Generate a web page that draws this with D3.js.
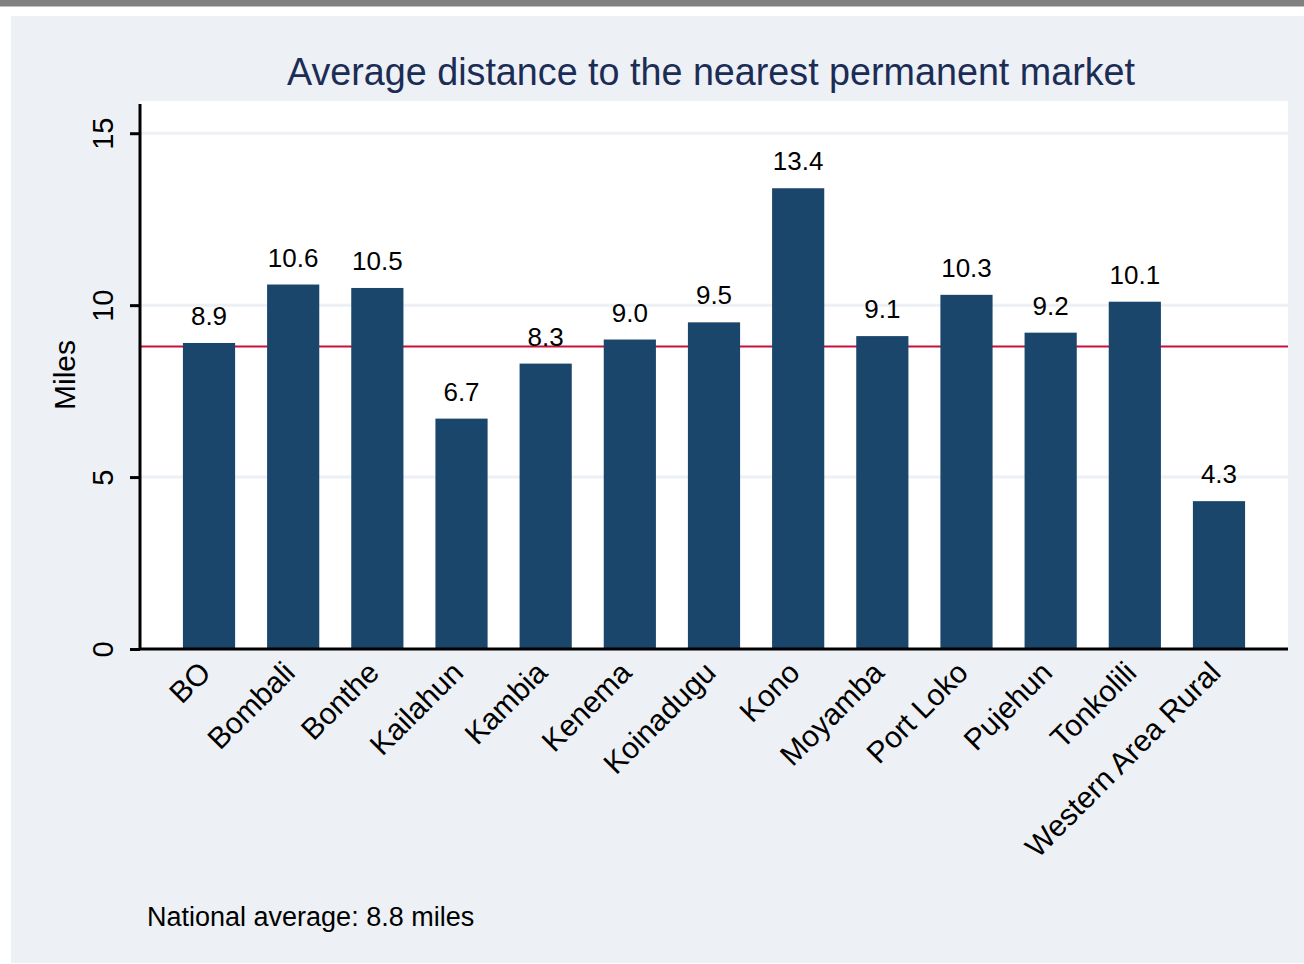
<!DOCTYPE html>
<html lang="en">
<head>
    <meta charset="UTF-8">
    <title>Average distance to the nearest permanent market</title>
    <script src="https://d3js.org/d3.v7.min.js"></script>
    <style>
        body { margin: 0; background: #ffffff; }
        svg { display: block; }
        text { font-family: "Liberation Sans", Arial, sans-serif; }
    </style>
</head>
<body>
<div id="chart"></div>
<script>
    // data
    const districts = ["BO", "Bombali", "Bonthe", "Kailahun", "Kambia", "Kenema", "Koinadugu",
        "Kono", "Moyamba", "Port Loko", "Pujehun", "Tonkolili", "Western Area Rural"];
    const distances = [8.9, 10.6, 10.5, 6.7, 8.3, 9.0, 9.5, 13.4, 9.1, 10.3, 9.2, 10.1, 4.3];
    const yTicks = [0, 5, 10, 15];
    const nationalAverage = 8.8;

    const width = 1304, height = 964;
    const plot = { left: 140, right: 1288, top: 101, bottom: 649 };

    const svg = d3.select("#chart").append("svg")
        .attr("width", width)
        .attr("height", height);

    // frame: grey strip on top, light bluish graph region
    svg.append("rect").attr("x", 0).attr("y", 0).attr("width", width).attr("height", 6.5).attr("fill", "#808080");
    svg.append("rect").attr("x", 11).attr("y", 16).attr("width", width - 11).attr("height", height - 17).attr("fill", "#edf0f5");
    svg.append("rect").attr("x", plot.left).attr("y", plot.top)
        .attr("width", plot.right - plot.left).attr("height", plot.bottom - plot.top)
        .attr("fill", "#ffffff");

    const x = d3.scaleBand()
        .domain(districts)
        .range([plot.left, plot.right])
        .paddingInner(0.38)
        .paddingOuter(0.51);

    const y = d3.scaleLinear()
        .domain([0, 15.85])
        .range([plot.bottom, 104]);

    // gridlines
    svg.append("g")
        .selectAll("line")
        .data(yTicks.filter(d => d > 0))
        .enter().append("line")
        .attr("x1", plot.left).attr("x2", plot.right)
        .attr("y1", d => y(d)).attr("y2", d => y(d))
        .attr("stroke", "#edf0f5")
        .attr("stroke-width", 3);

    // national average line (behind bars)
    svg.append("line")
        .attr("x1", plot.left).attr("x2", plot.right)
        .attr("y1", y(nationalAverage)).attr("y2", y(nationalAverage))
        .attr("stroke", "#c8103a")
        .attr("stroke-width", 2);

    // bars
    svg.append("g")
        .selectAll("rect")
        .data(distances)
        .enter().append("rect")
        .attr("x", (d, i) => x(districts[i]))
        .attr("y", d => y(d))
        .attr("width", x.bandwidth())
        .attr("height", d => y(0) - y(d))
        .attr("fill", "#1a466b");

    // value labels
    svg.append("g")
        .selectAll("text")
        .data(distances)
        .enter().append("text")
        .attr("x", (d, i) => x(districts[i]) + x.bandwidth() / 2)
        .attr("y", d => y(d) - 18)
        .attr("text-anchor", "middle")
        .attr("font-size", 26)
        .attr("fill", "#000")
        .text(d => d.toFixed(1));

    // y axis
    const yAxis = svg.append("g")
        .attr("transform", `translate(${plot.left},0)`)
        .call(d3.axisLeft(y).tickValues(yTicks).tickSize(10).tickFormat(d3.format("d")));
    yAxis.select(".domain").attr("stroke", "#000").attr("stroke-width", 3).attr("d", `M0,104V${plot.bottom}`);
    yAxis.selectAll(".tick line").attr("stroke", "#000").attr("stroke-width", 3);
    yAxis.selectAll(".tick text")
        .attr("font-size", 29)
        .attr("font-family", "Liberation Sans, Arial, sans-serif")
        .attr("fill", "#000")
        .attr("x", 0).attr("dy", 0)
        .attr("text-anchor", "middle")
        .attr("transform", "translate(-27,0) rotate(-90)");

    // x axis
    const xAxis = svg.append("g")
        .attr("transform", `translate(0,${plot.bottom})`)
        .call(d3.axisBottom(x).tickSize(0).tickPadding(0));
    xAxis.select(".domain").attr("stroke", "#000").attr("stroke-width", 3)
        .attr("d", `M${plot.left},0H${plot.right}`);
    xAxis.selectAll(".tick text")
        .attr("font-size", 30)
        .attr("font-family", "Liberation Sans, Arial, sans-serif")
        .attr("fill", "#000")
        .attr("text-anchor", "end")
        .attr("y", 0).attr("dy", "0.35em")
        .attr("transform", "translate(-4,18) rotate(-45)");

    // axis title
    svg.append("text")
        .attr("transform", "translate(75,375) rotate(-90)")
        .attr("text-anchor", "middle")
        .attr("font-size", 30)
        .attr("fill", "#000")
        .text("Miles");

    // chart title
    svg.append("text")
        .attr("x", 711).attr("y", 85)
        .attr("text-anchor", "middle")
        .attr("font-size", 38)
        .attr("fill", "#1c2d55")
        .attr("textLength", 848)
        .attr("lengthAdjust", "spacingAndGlyphs")
        .text("Average distance to the nearest permanent market");

    // note
    svg.append("text")
        .attr("x", 147).attr("y", 926)
        .attr("font-size", 27)
        .attr("fill", "#000")
        .text("National average: " + nationalAverage.toFixed(1) + " miles");
</script>
</body>
</html>
